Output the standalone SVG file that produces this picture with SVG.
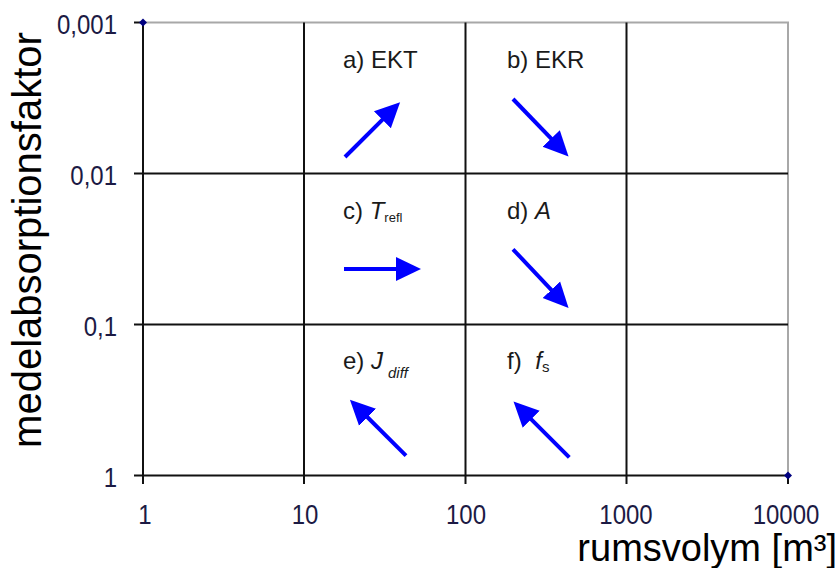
<svg xmlns="http://www.w3.org/2000/svg" width="839" height="568" viewBox="0 0 839 568">
<style>
  .grid { stroke: #111; stroke-width: 2; fill: none; }
  .frame { stroke: #a8a8a8; stroke-width: 2; fill: none; }
  .tick { font-family: "Liberation Sans", Arial, sans-serif; font-size: 24px; fill: #1c1a44; }
  .title { font-family: "Liberation Sans", Arial, sans-serif; fill: #000; }
  .lbl { font-family: "Liberation Sans", Arial, sans-serif; font-size: 24px; fill: #1a1a1a; }
  .arrow { stroke: #0000ff; stroke-width: 4; fill: none; marker-end: url(#head); }
  .pt { fill: #000080; }
</style>
<defs>
  <marker id="head" markerUnits="userSpaceOnUse" markerWidth="26" markerHeight="26" refX="14" refY="13" orient="auto">
    <path d="M0,1 L25,13 L0,25 Z" fill="#0000ff"/>
  </marker>
</defs>
<rect width="839" height="568" fill="#fff"/>
<g id="plot">
  <path class="frame" d="M143,22.5 H788 V475.5"/>
  <path class="grid" d="M143,173.5 H788 M143,324.5 H788 M143,475.5 H788"/>
  <path class="grid" d="M143,22.5 V475.5 M304,22.5 V475.5 M465.5,22.5 V475.5 M626.5,22.5 V475.5"/>
  <path class="grid" d="M134,22.5 H143 M134,173.5 H143 M134,324.5 H143 M134,475.5 H143"/>
  <path class="grid" d="M143,475.5 V484 M304,475.5 V484 M465.5,475.5 V484 M626.5,475.5 V484 M788,475.5 V484"/>
  <path class="pt" d="M143,18.5 L147,22.5 L143,26.5 L139,22.5 Z"/>
  <path class="pt" d="M788,471.5 L792,475.5 L788,479.5 L784,475.5 Z"/>
</g>
<g id="y-axis">
  <text class="tick" text-anchor="end" transform="translate(117,34) scale(1,1.15)">0,001</text>
  <text class="tick" text-anchor="end" transform="translate(117,184.5) scale(1,1.15)">0,01</text>
  <text class="tick" text-anchor="end" transform="translate(117,336) scale(1,1.15)">0,1</text>
  <text class="tick" text-anchor="end" transform="translate(117,487) scale(1,1.15)">1</text>
  <text class="title" font-size="40" text-anchor="middle" transform="translate(41,240) rotate(-90)">medelabsorptionsfaktor</text>
</g>
<g id="x-axis">
  <text class="tick" text-anchor="middle" transform="translate(145,524) scale(1,1.15)">1</text>
  <text class="tick" text-anchor="middle" transform="translate(305,524) scale(1,1.15)">10</text>
  <text class="tick" text-anchor="middle" transform="translate(466,524) scale(1,1.15)">100</text>
  <text class="tick" text-anchor="middle" transform="translate(626,524) scale(1,1.15)">1000</text>
  <text class="tick" text-anchor="middle" transform="translate(786,524) scale(1,1.15)">10000</text>
  <text class="title" font-size="38" text-anchor="end" x="837" y="561">rumsvolym [m³]</text>
</g>
<g id="label-a"><text class="lbl" x="343" y="68">a) EKT</text></g>
<g id="label-b"><text class="lbl" x="507" y="68">b) EKR</text></g>
<g id="label-c"><text class="lbl" x="343" y="219">c) <tspan font-style="italic">T</tspan><tspan font-size="13" dy="3">refl</tspan></text></g>
<g id="label-d"><text class="lbl" x="507" y="219">d) <tspan font-style="italic">A</tspan></text></g>
<g id="label-e"><text class="lbl" x="343" y="369">e) <tspan font-style="italic">J</tspan><tspan font-size="15" font-style="italic" dx="5" dy="9">diff</tspan></text></g>
<g id="label-f"><text class="lbl" x="507" y="369">f) <tspan font-style="italic" dx="7">f</tspan><tspan font-size="15" dy="3">s</tspan></text></g>
<g id="connectors">
  <line class="arrow" x1="345" y1="157" x2="392.3" y2="109.9"/>
  <line class="arrow" x1="513" y1="99" x2="560.9" y2="148.6"/>
  <line class="arrow" x1="344" y1="269" x2="410" y2="269"/>
  <line class="arrow" x1="513" y1="249.3" x2="561" y2="300"/>
  <line class="arrow" x1="406" y1="455.7" x2="357.7" y2="407.5"/>
  <line class="arrow" x1="569.3" y1="457.3" x2="521.3" y2="409.3"/>
</g>
</svg>
